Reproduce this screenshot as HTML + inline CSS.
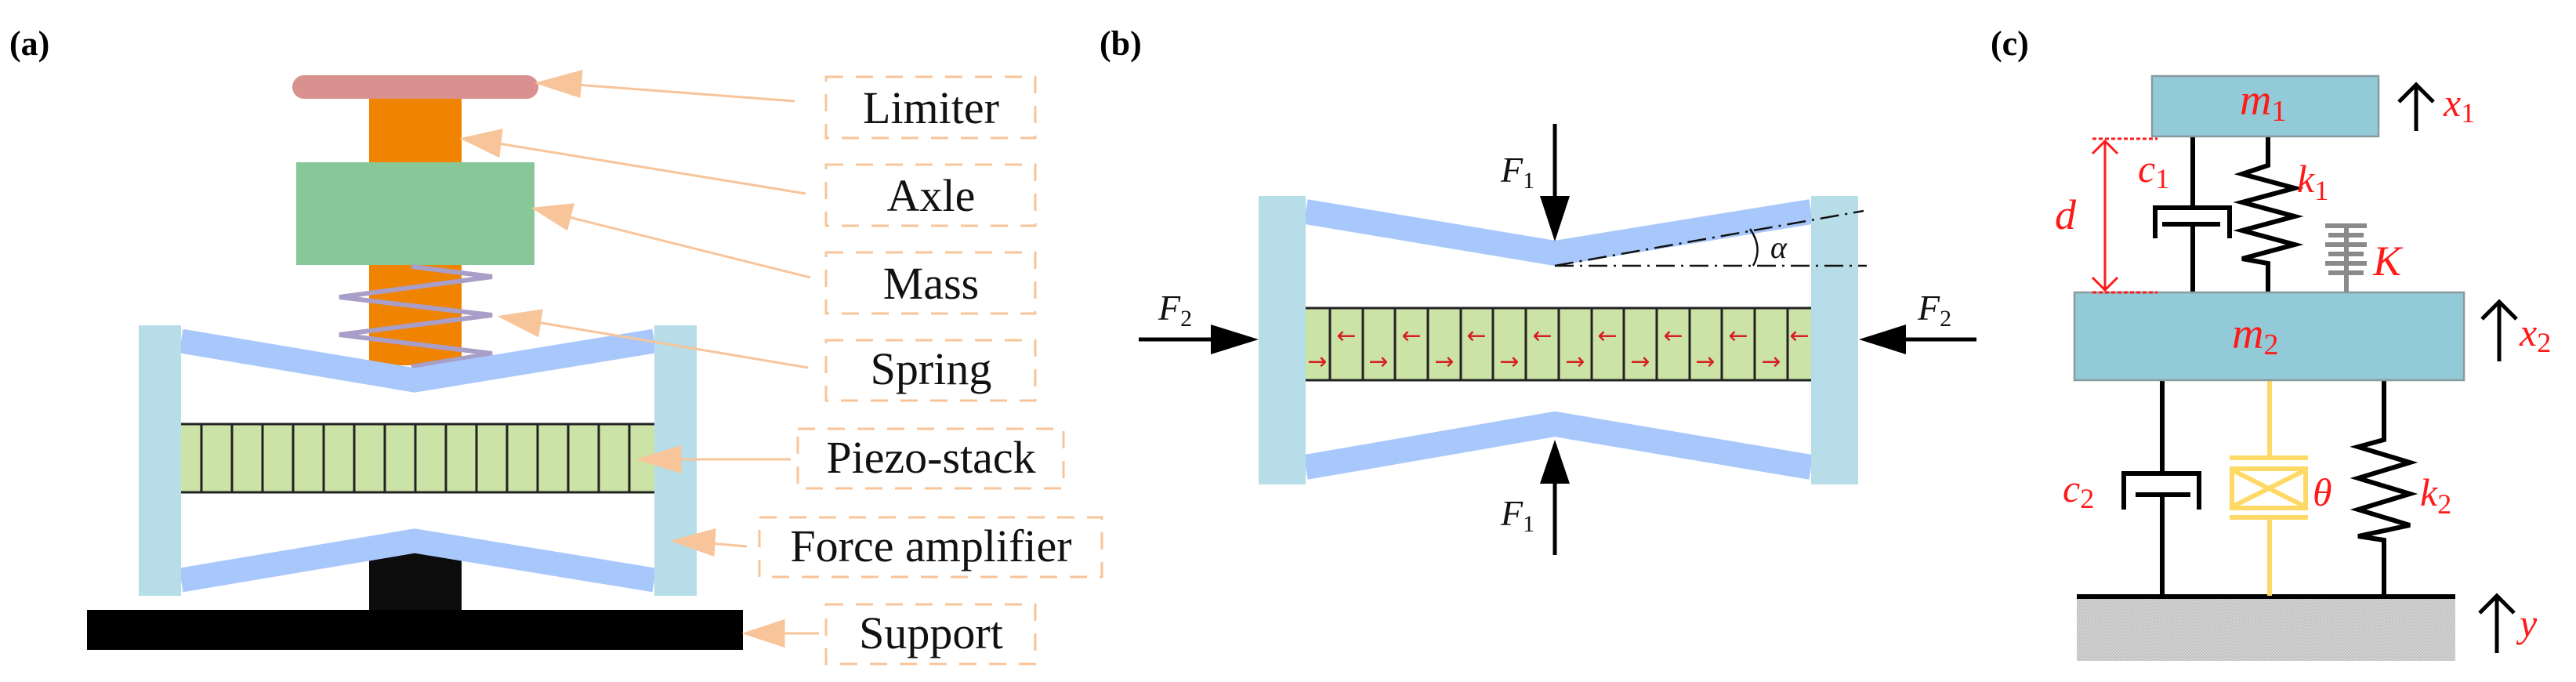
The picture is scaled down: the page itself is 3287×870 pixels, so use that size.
<!DOCTYPE html>
<html><head><meta charset="utf-8"><style>html,body{margin:0;padding:0;background:#fff}svg{display:block}svg text{font-family:"Liberation Serif","DejaVu Serif",serif}svg text.arr{font-family:"DejaVu Sans",sans-serif}</style></head>
<body>
<svg width="3287" height="870" viewBox="0 0 3287 870" xmlns="http://www.w3.org/2000/svg">
<defs>
<pattern id="hatch" width="4" height="4" patternUnits="userSpaceOnUse"><rect width="4" height="4" fill="#d4d4d4"/><path d="M0,4 L4,0" stroke="#b8b8b8" stroke-width="1"/></pattern>
</defs>

<!-- ============ (a) ============ -->
<text x="12" y="70" font-size="44" font-weight="bold">(a)</text>
<rect x="111" y="778" width="837" height="51" fill="#000"/>
<polygon points="471,714 529,703 589,714 589,778 471,778" fill="#0c0c0c"/>
<rect x="471" y="126" width="118" height="340" fill="#f08300"/>
<rect x="373" y="96" width="314" height="30" rx="15" fill="#d9918f"/>
<rect x="378" y="207" width="304" height="131" fill="#88c898"/>
<polyline points="525,340 628,353 433,379 628,402 433,427 628,451 525,468" fill="none" stroke="#a89ec8" stroke-width="6"/>
<polyline points="231,435 529,485 835,435" fill="none" stroke="#a8c8fc" stroke-width="31"/>
<polyline points="231,740 529,690 835,740" fill="none" stroke="#a8c8fc" stroke-width="31"/>
<rect x="177" y="415" width="54" height="345" fill="#b6dde8"/>
<rect x="835" y="415" width="54" height="345" fill="#b6dde8"/>
<rect x="231" y="540" width="604" height="89" fill="#cce3a8"/>
<line x1="231" y1="541" x2="835" y2="541" stroke="#222" stroke-width="3"/>
<line x1="231" y1="628" x2="835" y2="628" stroke="#222" stroke-width="3"/>
<g stroke="#222" stroke-width="3">
<line x1="257" y1="540" x2="257" y2="629"/><line x1="296" y1="540" x2="296" y2="629"/><line x1="335" y1="540" x2="335" y2="629"/><line x1="374" y1="540" x2="374" y2="629"/><line x1="413" y1="540" x2="413" y2="629"/><line x1="452" y1="540" x2="452" y2="629"/><line x1="491" y1="540" x2="491" y2="629"/><line x1="530" y1="540" x2="530" y2="629"/><line x1="569" y1="540" x2="569" y2="629"/><line x1="608" y1="540" x2="608" y2="629"/><line x1="647" y1="540" x2="647" y2="629"/><line x1="686" y1="540" x2="686" y2="629"/><line x1="725" y1="540" x2="725" y2="629"/><line x1="764" y1="540" x2="764" y2="629"/><line x1="803" y1="540" x2="803" y2="629"/>
</g>
<g stroke="#f8c49a" stroke-width="3" fill="#f8c49a">
<line x1="1014" y1="129" x2="735" y2="108"/><polygon points="687,106 742,91 739,123"/>
<line x1="1028" y1="247" x2="636" y2="183"/><polygon points="591,177 640,166 636,199"/>
<line x1="1034" y1="354" x2="726" y2="277"/><polygon points="682,266 731,261 723,292"/>
<line x1="1031" y1="469" x2="685" y2="411"/><polygon points="639,404 691,396 686,428"/>
<line x1="1009" y1="586" x2="860" y2="586"/><polygon points="816,586 868,570 868,602"/>
<line x1="953" y1="697" x2="905" y2="693"/><polygon points="860,690 912,676 910,708"/>
<line x1="1045" y1="808" x2="995" y2="808"/><polygon points="951,808 1000,792 1000,824"/>
</g>
<g fill="none" stroke="#f8c49a" stroke-width="3" stroke-dasharray="22,16">
<rect x="1054" y="98" width="267" height="78"/>
<rect x="1054" y="210" width="267" height="78"/>
<rect x="1054" y="322" width="267" height="78"/>
<rect x="1054" y="434" width="267" height="77"/>
<rect x="1018" y="547" width="339" height="76"/>
<rect x="969" y="660" width="437" height="76"/>
<rect x="1054" y="771" width="267" height="76"/>
</g>
<g font-size="58" text-anchor="middle" fill="#111">
<text x="1188" y="157">Limiter</text>
<text x="1188" y="269">Axle</text>
<text x="1188" y="381">Mass</text>
<text x="1188" y="490">Spring</text>
<text x="1188" y="603">Piezo-stack</text>
<text x="1188" y="716">Force amplifier</text>
<text x="1188" y="827">Support</text>
</g>

<!-- ============ (b) ============ -->
<text x="1403" y="70" font-size="44" font-weight="bold">(b)</text>
<polyline points="1666,270 1984,323 2311,270" fill="none" stroke="#a8c8fc" stroke-width="32"/>
<polyline points="1666,596 1984,541 2311,596" fill="none" stroke="#a8c8fc" stroke-width="32"/>
<rect x="1606" y="250" width="60" height="368" fill="#b6dde8"/>
<rect x="2311" y="250" width="60" height="368" fill="#b6dde8"/>
<rect x="1666" y="392" width="645" height="94" fill="#cce3a8"/>
<line x1="1666" y1="393" x2="2311" y2="393" stroke="#222" stroke-width="3"/>
<line x1="1666" y1="485" x2="2311" y2="485" stroke="#222" stroke-width="3"/>
<g stroke="#222" stroke-width="3">
<line x1="1697" y1="392" x2="1697" y2="486"/><line x1="1739" y1="392" x2="1739" y2="486"/><line x1="1780" y1="392" x2="1780" y2="486"/><line x1="1822" y1="392" x2="1822" y2="486"/><line x1="1864" y1="392" x2="1864" y2="486"/><line x1="1905" y1="392" x2="1905" y2="486"/><line x1="1947" y1="392" x2="1947" y2="486"/><line x1="1989" y1="392" x2="1989" y2="486"/><line x1="2031" y1="392" x2="2031" y2="486"/><line x1="2072" y1="392" x2="2072" y2="486"/><line x1="2114" y1="392" x2="2114" y2="486"/><line x1="2156" y1="392" x2="2156" y2="486"/><line x1="2197" y1="392" x2="2197" y2="486"/><line x1="2239" y1="392" x2="2239" y2="486"/><line x1="2281" y1="392" x2="2281" y2="486"/>
</g>
<g fill="#d42020" font-size="30" text-anchor="middle">
<text class="arr" x="1681" y="471">→</text>
<text class="arr" x="1718" y="438">←</text><text class="arr" x="1759" y="471">→</text><text class="arr" x="1801" y="438">←</text><text class="arr" x="1843" y="471">→</text><text class="arr" x="1884" y="438">←</text><text class="arr" x="1926" y="471">→</text><text class="arr" x="1968" y="438">←</text><text class="arr" x="2010" y="471">→</text><text class="arr" x="2051" y="438">←</text><text class="arr" x="2093" y="471">→</text><text class="arr" x="2135" y="438">←</text><text class="arr" x="2176" y="471">→</text><text class="arr" x="2218" y="438">←</text><text class="arr" x="2260" y="471">→</text><text class="arr" x="2296" y="438">←</text>
</g>
<g fill="#000" stroke="#000" stroke-width="5">
<line x1="1984" y1="158" x2="1984" y2="255"/><polygon points="1984,308 1965,250 2003,250" stroke="none"/>
<line x1="1984" y1="708" x2="1984" y2="612"/><polygon points="1984,561 1965,617 2003,617" stroke="none"/>
<line x1="1453" y1="433" x2="1550" y2="433"/><polygon points="1606,433 1545,414 1545,452" stroke="none"/>
<line x1="2522" y1="433" x2="2428" y2="433"/><polygon points="2372,433 2432,414 2432,452" stroke="none"/>
</g>
<g font-size="46" font-style="italic" fill="#111">
<text x="1915" y="232">F<tspan font-size="30" font-style="normal" dy="8">1</tspan></text>
<text x="1915" y="670">F<tspan font-size="30" font-style="normal" dy="8">1</tspan></text>
<text x="1478" y="408">F<tspan font-size="30" font-style="normal" dy="8">2</tspan></text>
<text x="2447" y="408">F<tspan font-size="30" font-style="normal" dy="8">2</tspan></text>
</g>
<g stroke="#111" stroke-width="2.5" fill="none" stroke-dasharray="24,8,3,8">
<line x1="1984" y1="339" x2="2382" y2="339"/>
<line x1="1984" y1="339" x2="2378" y2="269"/>
</g>
<path d="M2233,292 Q2250,316 2237,339" fill="none" stroke="#111" stroke-width="2.5"/>
<text x="2259" y="329" font-size="40" font-style="italic" fill="#111">α</text>

<!-- ============ (c) ============ -->
<text x="2540" y="70" font-size="44" font-weight="bold">(c)</text>
<rect x="2650" y="763" width="483" height="80" fill="url(#hatch)"/>
<line x1="2650" y1="761" x2="3133" y2="761" stroke="#000" stroke-width="6"/>
<g stroke="#000" stroke-width="6" fill="none">
<line x1="2798" y1="174" x2="2798" y2="264"/>
<polyline points="2750,304 2750,265 2845,265 2845,304"/>
<line x1="2759" y1="286" x2="2833" y2="286"/>
<line x1="2798" y1="286" x2="2798" y2="373"/>
<polyline points="2894,174 2894,211 2861,222 2928,240 2861,258 2928,276 2861,294 2928,312 2861,330 2894,336 2894,373"/>
<line x1="2759" y1="485" x2="2759" y2="603"/>
<polyline points="2710,650 2710,604 2806,604 2806,650"/>
<line x1="2725" y1="631" x2="2795" y2="631"/>
<line x1="2759" y1="631" x2="2759" y2="760"/>
<polyline points="3042,485 3042,561 3009,570 3075,590 3009,610 3075,630 3009,650 3075,670 3009,684 3042,689 3042,760"/>
</g>
<g stroke="#8a8a8a" stroke-width="6">
<line x1="2994" y1="288" x2="2994" y2="373"/>
<line x1="2967" y1="288" x2="3020" y2="288"/>
<line x1="2971" y1="300" x2="3016" y2="300"/>
<line x1="2967" y1="312" x2="3020" y2="312"/>
<line x1="2971" y1="324" x2="3016" y2="324"/>
<line x1="2967" y1="336" x2="3020" y2="336"/>
<line x1="2971" y1="348" x2="3016" y2="348"/>
</g>
<g stroke="#ffd966" stroke-width="6" fill="none">
<line x1="2896" y1="485" x2="2896" y2="583"/>
<line x1="2845" y1="584" x2="2945" y2="584"/>
<rect x="2848" y="598" width="94" height="50"/>
<line x1="2851" y1="601" x2="2939" y2="645"/>
<line x1="2939" y1="601" x2="2851" y2="645"/>
<line x1="2845" y1="660" x2="2945" y2="660"/>
<line x1="2896" y1="661" x2="2896" y2="760"/>
</g>
<rect x="2746" y="97" width="289" height="77" fill="#92cad8" stroke="#8a9a9e" stroke-width="2.5"/>
<rect x="2647" y="373" width="497" height="112" fill="#92cad8" stroke="#8a9a9e" stroke-width="2.5"/>
<g stroke="#ff1a1a" stroke-width="3" fill="none">
<line x1="2670" y1="177" x2="2753" y2="177" stroke-dasharray="5,3"/>
<line x1="2670" y1="373" x2="2753" y2="373" stroke-dasharray="5,3"/>
<line x1="2686" y1="179" x2="2686" y2="371"/>
<polyline points="2670,196 2686,180 2702,196"/>
<polyline points="2670,354 2686,370 2702,354"/>
</g>
<g stroke="#000" stroke-width="5" fill="none">
<line x1="3083" y1="108" x2="3083" y2="167"/><polyline points="3061,130 3083,108 3105,130"/>
<line x1="3189" y1="385" x2="3189" y2="461"/><polyline points="3167,407 3189,385 3211,407"/>
<line x1="3186" y1="760" x2="3186" y2="833"/><polyline points="3164,782 3186,760 3208,782"/>
</g>
<g fill="#ff1a1a" font-style="italic" font-size="56">
<text x="2858" y="146">m<tspan font-style="normal" font-size="38" dy="8">1</tspan></text>
<text x="2848" y="444">m<tspan font-style="normal" font-size="38" dy="8">2</tspan></text>
<text x="3118" y="148" font-size="50">x<tspan font-style="normal" font-size="36" dy="8">1</tspan></text>
<text x="3215" y="441" font-size="50">x<tspan font-style="normal" font-size="36" dy="8">2</tspan></text>
<text x="3215" y="812" font-size="50">y</text>
<text x="2728" y="232" font-size="50">c<tspan font-style="normal" font-size="36" dy="8">1</tspan></text>
<text x="2931" y="245" font-size="50">k<tspan font-style="normal" font-size="36" dy="10">1</tspan></text>
<text x="3028" y="351" font-size="54">K</text>
<text x="2622" y="292" font-size="54">d</text>
<text x="2632" y="640" font-size="50">c<tspan font-style="normal" font-size="36" dy="8">2</tspan></text>
<text x="2951" y="645" font-size="50">θ</text>
<text x="3088" y="645" font-size="50">k<tspan font-style="normal" font-size="36" dy="10">2</tspan></text>
</g>
</svg>
</body></html>
